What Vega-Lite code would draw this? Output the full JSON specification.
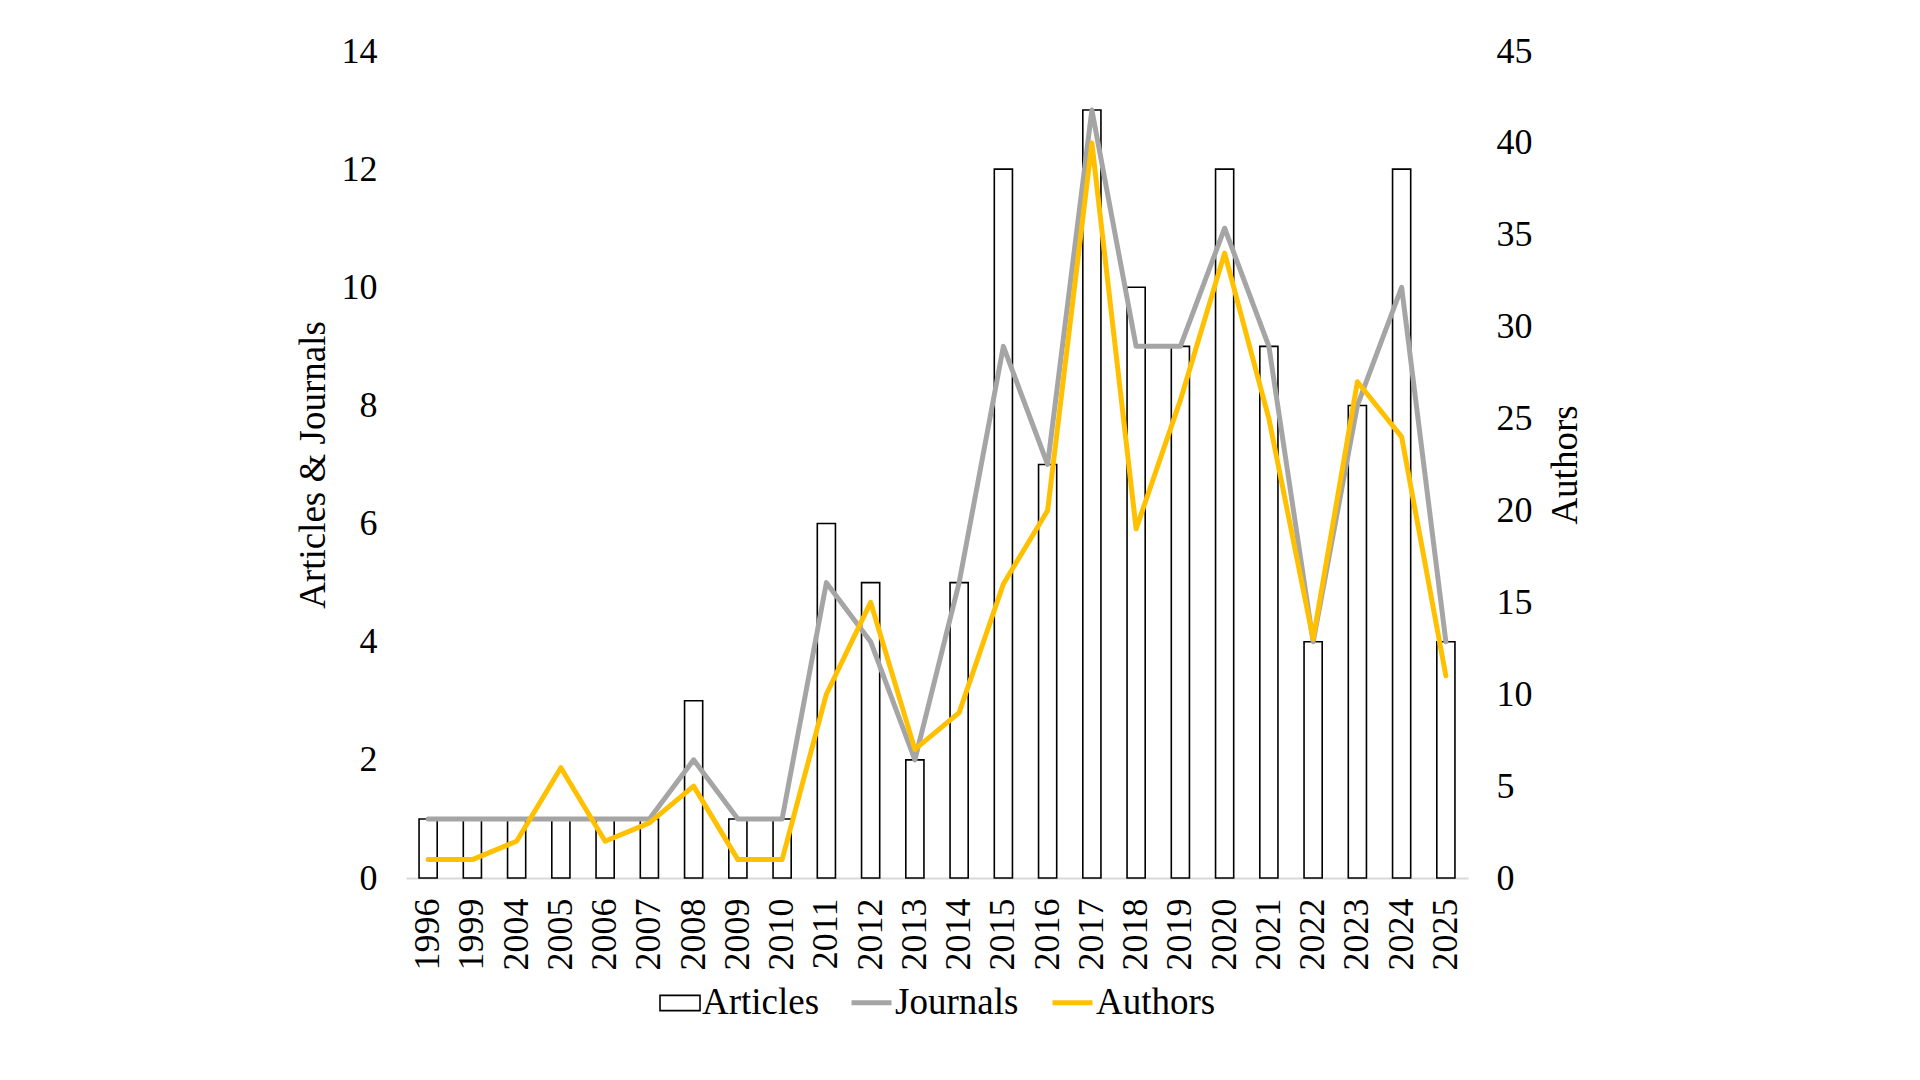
{
  "$schema": "https://vega.github.io/schema/vega-lite/v6.json",
  "width": 1062,
  "height": 827,
  "autosize": {"type": "none"},
  "padding": {"left": 406, "top": 51, "right": 452, "bottom": 202},
  "background": "white",
  "config": {
    "view": {"stroke": null},
    "font": "Liberation Serif",
    "axis": {"labelFont": "Liberation Serif", "titleFont": "Liberation Serif", "labelColor": "black", "titleColor": "black", "titleFontWeight": "normal", "grid": false, "ticks": false, "tickSize": 0},
    "legend": {"labelFont": "Liberation Serif", "labelFontSize": 37, "labelColor": "black", "labelOffset": 1, "padding": 0, "title": null}
  },
  "data": {
    "values": [
      {"year": "1996", "Articles": 1, "Journals": 1, "Authors": 1},
      {"year": "1999", "Articles": 1, "Journals": 1, "Authors": 1},
      {"year": "2004", "Articles": 1, "Journals": 1, "Authors": 2},
      {"year": "2005", "Articles": 1, "Journals": 1, "Authors": 6},
      {"year": "2006", "Articles": 1, "Journals": 1, "Authors": 2},
      {"year": "2007", "Articles": 1, "Journals": 1, "Authors": 3},
      {"year": "2008", "Articles": 3, "Journals": 2, "Authors": 5},
      {"year": "2009", "Articles": 1, "Journals": 1, "Authors": 1},
      {"year": "2010", "Articles": 1, "Journals": 1, "Authors": 1},
      {"year": "2011", "Articles": 6, "Journals": 5, "Authors": 10},
      {"year": "2012", "Articles": 5, "Journals": 4, "Authors": 15},
      {"year": "2013", "Articles": 2, "Journals": 2, "Authors": 7},
      {"year": "2014", "Articles": 5, "Journals": 5, "Authors": 9},
      {"year": "2015", "Articles": 12, "Journals": 9, "Authors": 16},
      {"year": "2016", "Articles": 7, "Journals": 7, "Authors": 20},
      {"year": "2017", "Articles": 13, "Journals": 13, "Authors": 40},
      {"year": "2018", "Articles": 10, "Journals": 9, "Authors": 19},
      {"year": "2019", "Articles": 9, "Journals": 9, "Authors": 26},
      {"year": "2020", "Articles": 12, "Journals": 11, "Authors": 34},
      {"year": "2021", "Articles": 9, "Journals": 9, "Authors": 25},
      {"year": "2022", "Articles": 4, "Journals": 4, "Authors": 13},
      {"year": "2023", "Articles": 8, "Journals": 8, "Authors": 27},
      {"year": "2024", "Articles": 12, "Journals": 10, "Authors": 24},
      {"year": "2025", "Articles": 4, "Journals": 4, "Authors": 11}
    ]
  },
  "encoding": {
    "x": {
      "field": "year", "type": "nominal", "sort": null,
      "scale": {"paddingInner": 0.59, "paddingOuter": 0.295},
      "axis": {"title": null, "labelAngle": -90, "labelFontSize": 36, "labelPadding": 20, "domainColor": "#D9D9D9", "domainWidth": 2}
    }
  },
  "layer": [
    {
      "layer": [
        {
          "mark": {"type": "bar", "fill": "white", "strokeWidth": 1.6},
          "encoding": {
            "y": {"field": "Articles", "type": "quantitative", "scale": {"domain": [0, 14]},
              "axis": {"title": "Articles & Journals", "values": [0, 2, 4, 6, 8, 10, 12, 14], "format": "d", "domain": false, "labelFontSize": 36, "labelPadding": 29, "titleFontSize": 37, "titlePadding": 9}},
            "stroke": {"datum": "Articles", "type": "nominal",
              "scale": {"domain": ["Articles"], "range": ["black"]},
              "legend": {
                "orient": "none", "legendX": 253, "legendY": 931, "direction": "horizontal",
                "symbolSize": 1600, "symbolType": "M-1,-0.38H1V0.38H-1Z", "symbolStrokeWidth": 1.6, "symbolFillColor": "white", "symbolStrokeColor": "black"
              }}
          }
        },
        {
          "mark": {"type": "line", "strokeWidth": 5, "strokeJoin": "round", "strokeCap": "round"},
          "encoding": {
            "y": {"field": "Journals", "type": "quantitative"},
            "color": {"datum": "Journals", "type": "nominal",
              "scale": {"domain": ["Journals", "Authors"], "range": ["#A5A5A5", "#FFC000"]},
              "legend": {
                "orient": "none", "legendX": 443, "legendY": 929, "direction": "horizontal",
                "symbolSize": 1600, "symbolType": "stroke", "symbolStrokeWidth": 5, "columnPadding": 23
              }}
          }
        }
      ]
    },
    {
      "mark": {"type": "line", "strokeWidth": 5, "strokeJoin": "round", "strokeCap": "round"},
      "encoding": {
        "y": {"field": "Authors", "type": "quantitative", "scale": {"domain": [0, 45]},
          "axis": {"orient": "right", "title": "Authors", "values": [0, 5, 10, 15, 20, 25, 30, 35, 40, 45], "format": "d", "domain": false, "labelFontSize": 36, "labelPadding": 28, "titleFontSize": 37, "titlePadding": 15, "titleAngle": 270, "titleBaseline": "top"}},
        "color": {"datum": "Authors", "type": "nominal"}
      }
    }
  ],
  "resolve": {"scale": {"y": "independent"}}
}
